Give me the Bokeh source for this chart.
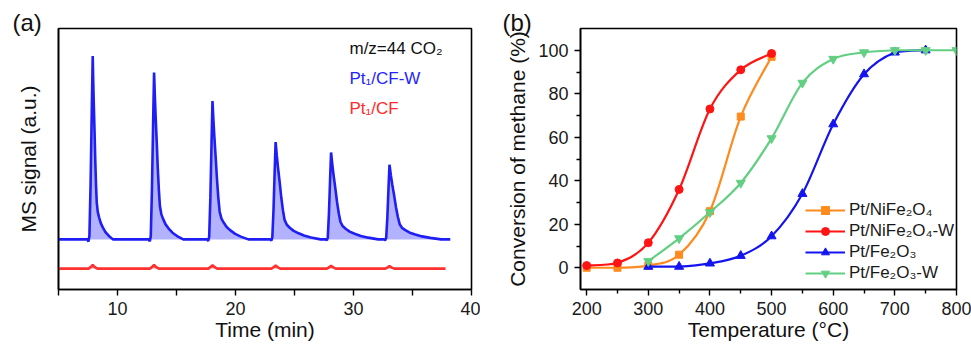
import math
from bokeh.plotting import figure
from bokeh.layouts import row
from bokeh.models import FixedTicker, Range1d, Legend, LegendItem, ColumnDataSource, Label, Title
from bokeh.embed import file_html
from bokeh.resources import INLINE

FONT = "Liberation Sans"

# ---------------- Panel (a) data : MS signal, m/z = 44 ----------------
peak_times = [7.9, 13.1, 18.05, 23.4, 28.1, 33.05]        # min
peak_heights = [70.3, 63.9, 53.0, 37.3, 33.3, 28.6]       # a.u. above baseline
peak_widths = [0.45, 0.65, 0.8, 1.0, 1.05, 1.15]          # tail width factor
blue_base = 19.2
red_base = 8.0
red_bumps = [1.4, 1.4, 1.3, 1.2, 1.1, 1.0]
# peak profile (offset in min, fraction of height)
rise_dt = [-0.45, -0.36, -0.28, -0.18, -0.08]
rise_frac = [0.0, -0.012, 0.02, 0.3, 0.7]
tail_dt = [0.0, 0.1, 0.2, 0.35, 0.48, 0.62, 0.76, 0.95, 1.2, 1.5, 1.9, 2.4, 3.0, 3.8]
tail_frac = [1.0, 0.86, 0.74, 0.58, 0.43, 0.30, 0.20, 0.15, 0.12, 0.09, 0.065, 0.04, 0.02, 0.0]
bump_dt = [-0.35, -0.12, 0.0, 0.15, 0.4]
bump_frac = [0.0, 0.6, 1.0, 0.5, 0.0]
trace_start = 5.0
blue_end = 38.2
red_end = 37.8

# ---------------- Panel (b) data : methane conversion ----------------
temp_ni = [200, 250, 300, 350, 400, 450, 500]
conv_ni = [0.0, 0.0, 1.0, 6.0, 26.0, 69.5, 97.0]
temp_niw = [200, 250, 300, 350, 400, 450, 500]
conv_niw = [1.0, 2.2, 11.5, 36.0, 73.0, 91.0, 98.5]
temp_fe = [300, 350, 400, 450, 500, 550, 600, 650, 700, 750]
conv_fe = [0.5, 0.5, 2.0, 5.5, 14.5, 34.0, 66.0, 89.0, 99.0, 100.0]
temp_few = [300, 350, 400, 450, 500, 550, 600, 650, 700, 750, 800]
conv_few = [3.0, 13.5, 25.5, 39.0, 59.5, 85.0, 96.0, 99.0, 100.0, 100.0, 100.0]

names_b = ["Pt/NiFe\u2082O\u2084", "Pt/NiFe\u2082O\u2084-W", "Pt/Fe\u2082O\u2083", "Pt/Fe\u2082O\u2083-W"]
colors_b = ["#FF8A1E", "#FF1414", "#1414F0", "#62CF82"]
markers_b = ["square", "circle", "triangle", "inverted_triangle"]
msizes_b = [7, 8, 9, 9]
lsizes_b = [5, 5, 6, 6]


def style_axes(p):
    for ax in (p.xaxis[0], p.yaxis[0]):
        ax.axis_line_width = 1.6
        ax.axis_line_color = "black"
        ax.major_tick_line_width = 1.4
        ax.minor_tick_line_width = 1.4
        ax.major_tick_in = 0
        ax.minor_tick_in = 0
        ax.major_tick_out = 6
        ax.minor_tick_out = 4
        ax.major_label_text_font = FONT
        ax.major_label_text_font_size = "18px"
        ax.major_label_text_color = "#1a1a1a"
        ax.axis_label_text_font = FONT
        ax.axis_label_text_font_size = "21px"
        ax.axis_label_text_font_style = "normal"
        ax.axis_label_text_color = "#111111"
    p.xgrid.visible = False
    p.ygrid.visible = False
    p.outline_line_color = "black"
    p.outline_line_width = 1.6
    p.background_fill_color = "white"
    p.border_fill_color = "white"


def panel_title(p, text, offset):
    t = Title(text=text, align="left", offset=offset, standoff=-14, vertical_align="bottom",
              text_font=FONT, text_font_size="24px", text_font_style="normal",
              text_color="#111111")
    p.add_layout(t, "above")


# ================= Figure (a) =================
pa = figure(width=480, height=345, output_backend="svg", toolbar_location=None,
            x_range=Range1d(5, 40), y_range=Range1d(0, 100),
            min_border_left=58, min_border_right=9, min_border_top=28, min_border_bottom=56)
style_axes(pa)
pa.xaxis.ticker = FixedTicker(ticks=[10, 20, 30, 40], minor_ticks=[5, 15, 25, 35])
pa.xaxis.minor_tick_out = 6
pa.xaxis.major_label_standoff = 6
pa.xaxis.axis_label = "Time (min)"
pa.xaxis.axis_label_standoff = 0
pa.yaxis.ticker = FixedTicker(ticks=[], minor_ticks=[])
pa.yaxis.major_tick_out = 0
pa.yaxis.minor_tick_out = 0
pa.yaxis.axis_label = "MS signal (a.u.)"
pa.yaxis.axis_label_standoff = 19
panel_title(pa, "(a)", -46)

bx, by = [trace_start], [blue_base]
rx, ry = [trace_start], [red_base]
for t, h, w, rb in zip(peak_times, peak_heights, peak_widths, red_bumps):
    for dt, f in zip(rise_dt, rise_frac):
        bx.append(t + dt)
        by.append(blue_base + h * f)
    for dt, f in zip(tail_dt, tail_frac):
        bx.append(t + dt * w)
        by.append(blue_base + h * f)
    for dt, f in zip(bump_dt, bump_frac):
        rx.append(t + dt)
        ry.append(red_base + rb * f)
bx.append(blue_end)
by.append(blue_base)
rx.append(red_end)
ry.append(red_base)

pa.varea(x=bx, y1=[blue_base] * len(bx), y2=by, fill_color="#0000FF", fill_alpha=0.3)
pa.line(bx, by, line_color="#1E1EF5", line_width=2.6)
pa.varea(x=rx, y1=[red_base] * len(rx), y2=ry, fill_color="#FF3030", fill_alpha=0.5)
pa.line(rx, ry, line_color="#FF3030", line_width=2.6)

for txt, yv, col in [("m/z=44 CO\u2082", 92.3, "#111111"),
                     ("Pt\u2081/CF-W", 80.8, "#2424FF"),
                     ("Pt\u2081/CF", 69.3, "#FF2A2A")]:
    pa.add_layout(Label(x=29.66, y=yv, text=txt, text_font=FONT, text_font_size="17px",
                        text_color=col, text_align="left", text_baseline="middle"))

# ================= Figure (b) =================
pb = figure(width=491, height=345, output_backend="svg", toolbar_location=None,
            x_range=Range1d(190, 800), y_range=Range1d(-10, 110),
            min_border_left=100, min_border_right=15, min_border_top=28, min_border_bottom=56)
style_axes(pb)
pb.xaxis.ticker = FixedTicker(ticks=[200, 300, 400, 500, 600, 700, 800],
                              minor_ticks=[250, 350, 450, 550, 650, 750])
pb.yaxis.ticker = FixedTicker(ticks=[0, 20, 40, 60, 80, 100], minor_ticks=[10, 30, 50, 70, 90])
pb.xaxis.major_label_standoff = 6
pb.yaxis.major_label_standoff = 6
pb.xaxis.axis_label = "Temperature (\u00b0C)"
pb.xaxis.axis_label_standoff = 0
pb.yaxis.axis_label = "Conversion of methane (%)"
pb.yaxis.axis_label_standoff = 6
panel_title(pb, "(b)", -78)


def smooth_segments(xs, ys):
    n = len(xs)
    seg = dict(x0=[], y0=[], x1=[], y1=[], cx0=[], cy0=[], cx1=[], cy1=[])
    for i in range(n - 1):
        xp, yp = (xs[i - 1], ys[i - 1]) if i > 0 else (xs[i], ys[i])
        xq, yq = (xs[i + 2], ys[i + 2]) if i + 2 < n else (xs[i + 1], ys[i + 1])
        c0x = xs[i] + (xs[i + 1] - xp) / 6.0
        c0y = ys[i] + (ys[i + 1] - yp) / 6.0
        c1x = xs[i + 1] - (xq - xs[i]) / 6.0
        c1y = ys[i + 1] - (yq - ys[i]) / 6.0
        lo, hi = min(ys[i], ys[i + 1]), max(ys[i], ys[i + 1])
        c0y = min(max(c0y, lo), hi)
        c1y = min(max(c1y, lo), hi)
        seg["x0"].append(xs[i]); seg["y0"].append(ys[i])
        seg["x1"].append(xs[i + 1]); seg["y1"].append(ys[i + 1])
        seg["cx0"].append(c0x); seg["cy0"].append(c0y)
        seg["cx1"].append(c1x); seg["cy1"].append(c1y)
    return ColumnDataSource(seg)


series = [(temp_ni, conv_ni), (temp_niw, conv_niw), (temp_fe, conv_fe), (temp_few, conv_few)]
items = []
for (xs, ys), name, col, mk, ms, ls in zip(series, names_b, colors_b, markers_b, msizes_b, lsizes_b):
    pb.bezier(x0="x0", y0="y0", x1="x1", y1="y1", cx0="cx0", cy0="cy0", cx1="cx1", cy1="cy1",
              source=smooth_segments(xs, ys), line_color=col, line_width=2.2)
    pb.scatter(xs, ys, marker=mk, size=ms, fill_color=col, line_color=col)
    # legend-only renderers, placed far outside the visible ranges
    lr = pb.line(x=[0, 1], y=[-1000, -1000], line_color=col, line_width=2.2)
    sr = pb.scatter(x=[0], y=[-1000], marker=mk, size=ls, fill_color=col, line_color=col)
    items.append(LegendItem(label=name, renderers=[lr, sr]))

legend = Legend(items=items, location=(225, 6), border_line_color=None,
                background_fill_alpha=0.0, label_text_font=FONT, label_text_font_size="17px",
                label_text_color="#1a1a1a", glyph_width=40, glyph_height=20, label_height=20,
                spacing=1, padding=0, margin=0, label_standoff=4)
pb.add_layout(legend)

p = row(pa, pb)
open("out.html", "w").write(file_html(p, INLINE))
